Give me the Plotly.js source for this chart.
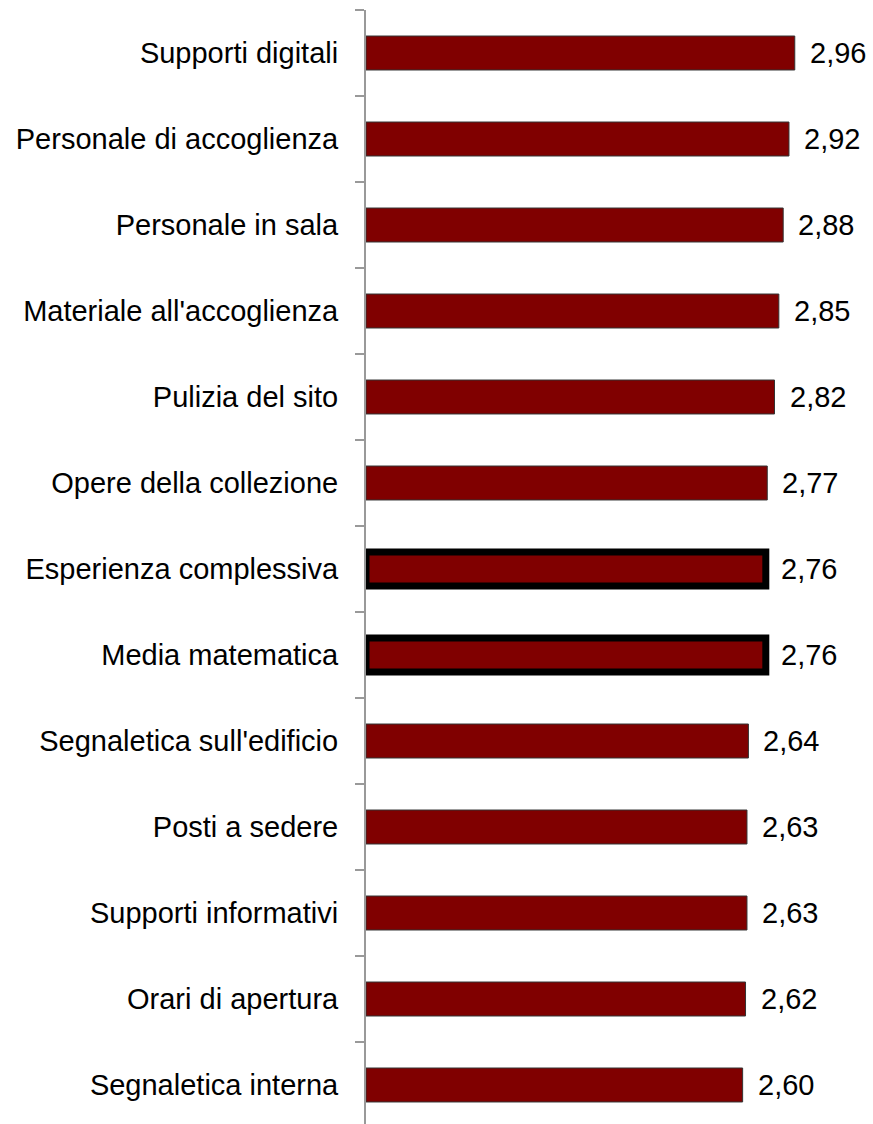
<!DOCTYPE html>
<html>
<head>
<meta charset="utf-8">
<script src="https://cdn.plot.ly/plotly-3.0.1.min.js"></script>
<style>html,body{margin:0;padding:0;background:#fff;}#chart{width:873px;height:1124px;}</style>
</head>
<body>
<div id="chart"></div>
<script>
var categories = ["Supporti digitali","Personale di accoglienza","Personale in sala","Materiale all'accoglienza","Pulizia del sito","Opere della collezione","Esperienza complessiva","Media matematica","Segnaletica sull'edificio","Posti a sedere","Supporti informativi","Orari di apertura","Segnaletica interna"];
var values = [2.96,2.92,2.88,2.85,2.82,2.77,2.76,2.76,2.64,2.63,2.63,2.62,2.60];
var valueLabels = ["2,96","2,92","2,88","2,85","2,82","2,77","2,76","2,76","2,64","2,63","2,63","2,62","2,60"];
var highlighted = ["Esperienza complessiva","Media matematica"];

var lineWidths = categories.map(function(c){ return highlighted.indexOf(c) >= 0 ? 7 : 1; });
var lineColors = categories.map(function(c){ return highlighted.indexOf(c) >= 0 ? '#000000' : '#333333'; });

var trace = {
  type: 'bar',
  orientation: 'h',
  y: categories,
  x: values,
  marker: {color: '#800000', line: {color: lineColors, width: lineWidths}},
  hoverinfo: 'none'
};

var annotations = categories.map(function(c, i){
  return {x: values[i], y: c, xref: 'x', yref: 'y', text: valueLabels[i], showarrow: false,
    xanchor: 'left', yanchor: 'middle', xshift: 13, font: {family: 'Liberation Sans, Arial, sans-serif', size: 29, color: '#000'}};
});

var bandPx = 86;
var plotH = 1124 - 10;
var layout = {
  width: 873, height: 1124,
  margin: {l: 366, r: 0, t: 10, b: 0, pad: 0},
  paper_bgcolor: '#fff', plot_bgcolor: '#fff',
  showlegend: false,
  bargap: 0.605,
  font: {family: 'Liberation Sans, Arial, sans-serif', size: 29, color: '#000'},
  xaxis: {range: [0, 3.5], visible: false, showgrid: false, zeroline: false, fixedrange: true},
  yaxis: {
    type: 'category', categoryorder: 'array', categoryarray: categories,
    range: [-0.5 + plotH / bandPx, -0.5],
    showline: true, linecolor: '#999999', linewidth: 2,
    ticks: 'outside', ticklen: 9, tickwidth: 2, tickcolor: '#999999',
    tickson: 'boundaries', showgrid: false, zeroline: false,
    ticklabelstandoff: 20,
    tickfont: {family: 'Liberation Sans, Arial, sans-serif', size: 29, color: '#000'}
  },
  annotations: annotations
};

Plotly.newPlot('chart', [trace], layout, {displayModeBar: false, staticPlot: true});
</script>
</body>
</html>
